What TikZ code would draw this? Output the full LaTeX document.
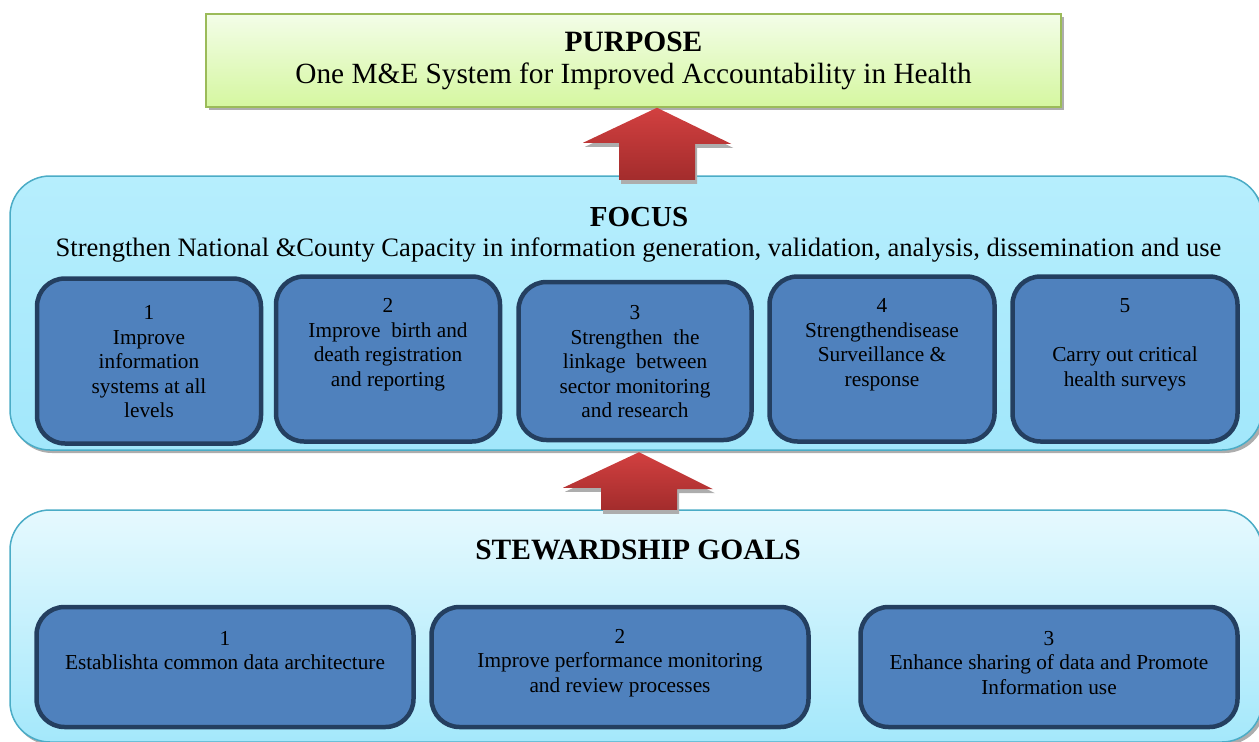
\documentclass[tikz,border=0pt]{standalone}
\usepackage{fontspec}
\setmainfont{Liberation Serif}
\begin{document}
\begin{tikzpicture}[x=1pt,y=-1pt,
  purposebox/.style={draw=purpborder, line width=1.5pt, top color=purptop, bottom color=purpbot, minimum width=855pt, minimum height=93pt, inner sep=0pt},
  bigbox/.style={draw=bigborder, line width=1.5pt, rounded corners=40pt, inner sep=0pt},
  innerbox/.style={draw=innerdark, line width=4.5pt, fill=innerblue, rounded corners=28pt, inner sep=0pt},
  boxtext/.style={align=center, font=\fontsize{21.3}{24.5}\selectfont, inner sep=0pt},
  titletext/.style={font=\bfseries\fontsize{29.5}{32}\selectfont, inner sep=0pt},
  shadowgray/.style={fill=black!32, draw=none},
  redarrow/.style={top color=arrowtop, bottom color=arrowbot, draw=none}
]
\definecolor{innerblue}{HTML}{4F81BD}
\definecolor{innerdark}{HTML}{243F60}
\definecolor{arrowtop}{HTML}{D24040}
\definecolor{arrowbot}{HTML}{A32C2C}
\definecolor{focustop}{HTML}{B6EEFD}
\definecolor{focusbot}{HTML}{A2E7FB}
\definecolor{stewtop}{HTML}{E6F9FE}
\definecolor{stewbot}{HTML}{A4E8FB}
\definecolor{bigborder}{HTML}{4BACC6}
\definecolor{purpborder}{HTML}{9BBB59}
\definecolor{purptop}{HTML}{F3FDE8}
\definecolor{purpbot}{HTML}{D5F7A0}
\useasboundingbox (0,0) rectangle (1259,742);

% ---------- shadows ----------
\fill[shadowgray] (209,17) rectangle (1064,110);
\fill[shadowgray, rounded corners=40pt] (12,179) rectangle (1265,453);
\fill[shadowgray, rounded corners=40pt] (12,513) rectangle (1265,745);

% ---------- purpose ----------
\node[purposebox] (purpose) at (633.5,60.5) {};
\node[titletext] (purposetitle) at (633.5,42) {PURPOSE};
\node[font=\fontsize{29.3}{32}\selectfont, inner sep=0pt] (purposetext) at (633.5,76) {One M\&E System for Improved Accountability in Health};

% ---------- focus ----------
\path[bigbox, top color=focustop, bottom color=focusbot] (10,176) rectangle (1262,450);
\node[inner sep=0pt, minimum width=1252pt, minimum height=274pt] (focus) at (636,313) {};
\node[titletext, font=\bfseries\fontsize{29}{32}\selectfont] (focustitle) at (639,217) {FOCUS};
\node[font=\fontsize{26.6}{30}\selectfont, inner sep=0pt] (focustext) at (638.5,250) {Strengthen National \&County Capacity in information generation, validation, analysis, dissemination and use};

\node[innerbox, minimum width=224pt, minimum height=165pt] (f1) at (149,361) {};
\node[innerbox, minimum width=224pt, minimum height=165pt] (f2) at (388,359) {};
\node[innerbox, minimum width=233pt, minimum height=158pt] (f3) at (635,361) {};
\node[innerbox, minimum width=225pt, minimum height=165pt] (f4) at (882,359) {};
\node[innerbox, minimum width=225pt, minimum height=165pt] (f5) at (1125,359) {};

\node[boxtext] (f1t) at (149,362) {1\\Improve\\information\\systems at all\\levels};
\node[boxtext] (f2t) at (388,344.5) {2\\Improve\ \ birth and\\death registration\\and reporting};
\node[boxtext] (f3t) at (635,362) {3\\Strengthen\ \ the\\linkage\ \ between\\sector monitoring\\and research};
\node[boxtext] (f4t) at (882,345) {4\\Strengthendisease\\Surveillance \&\\response};
\node[boxtext] (f5t) at (1125,345) {5\\\strut\\Carry out critical\\health surveys};

% ---------- stewardship ----------
\path[bigbox, top color=stewtop, bottom color=stewbot] (10,510) rectangle (1262,742);
\node[inner sep=0pt, minimum width=1252pt, minimum height=232pt] (stew) at (636,626) {};
\node[titletext] (stewtitle) at (638,550) {STEWARDSHIP GOALS};

\node[innerbox, minimum width=377pt, minimum height=120pt] (s1) at (225,667) {};
\node[innerbox, minimum width=377pt, minimum height=120pt] (s2) at (620,667) {};
\node[innerbox, minimum width=377pt, minimum height=120pt] (s3) at (1049,667) {};

\node[boxtext] (s1t) at (225,650.5) {1\\Establishta common data architecture};
\node[boxtext] (s2t) at (620,663) {2\\Improve performance monitoring\\and review processes};
\node[boxtext] (s3t) at (1049,663) {3\\Enhance sharing of data and Promote\\Information use};

% ---------- arrows ----------
\coordinate (a1tip) at (purpose.south -| 657,0);
\coordinate (a1base) at ([yshift=-4pt]focus.north -| 657,0);
\def\arrowone{(a1tip) -- ++(74,36) -- ++(-36,0) -- (a1base -| 695,0) -- (a1base -| 619,0) -- ++(0,-37) -- ++(-36,0) -- cycle}
\coordinate (a2tip) at ([yshift=-2pt]focus.south -| 639,0);
\coordinate (a2base) at (stew.north -| 639,0);
\def\arrowtwo{(a2tip) -- ++(74,37) -- ++(-36,0) -- (a2base -| 677,0) -- (a2base -| 601,0) -- ++(0,-22) -- ++(-38,0) -- cycle}

\begin{scope}[transform canvas={xshift=2pt,yshift=-4pt}]
  \fill[shadowgray] \arrowone;
  \fill[shadowgray] \arrowtwo;
\end{scope}
\path[redarrow] \arrowone;
\path[redarrow] \arrowtwo;

\end{tikzpicture}
\end{document}
